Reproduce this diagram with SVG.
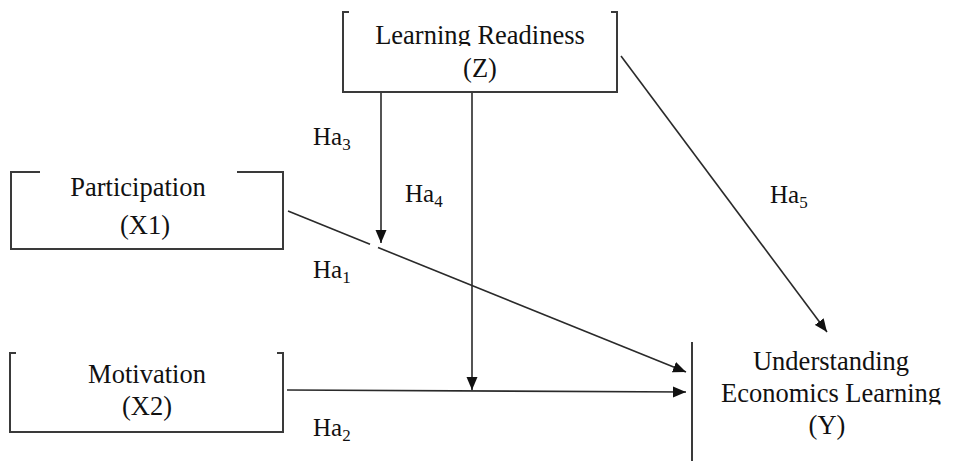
<svg xmlns="http://www.w3.org/2000/svg" width="955" height="461" viewBox="0 0 955 461">
<style>
  .box { fill: none; stroke: #3a3a3a; stroke-width: 2; }
  .edge { fill: none; stroke: #2a2a2a; stroke-width: 1.6; }
  .t { font-family: "Liberation Serif", "Times New Roman", serif; font-size: 25px; fill: #111; }
  .n { font-size: 26.5px; }
  .c { text-anchor: middle; }
  .sub { font-size: 17px; }
</style>
<defs>
  <marker id="arr" markerUnits="userSpaceOnUse" markerWidth="14" markerHeight="12" refX="13" refY="6" orient="auto">
    <path d="M0,0.5 L13,6 L0,11.5 z" fill="#111"/>
  </marker>
  <clipPath id="clipZ"><rect x="340" y="0" width="280" height="46"/></clipPath>
  <clipPath id="clipY"><rect x="700" y="340" width="255" height="64.5"/></clipPath>
</defs>
<rect width="955" height="461" fill="#fff"/>

<g id="connectors">
  <line class="edge" x1="381" y1="92" x2="381" y2="243" marker-end="url(#arr)"/>
  <line class="edge" x1="472" y1="92" x2="472" y2="390" marker-end="url(#arr)"/>
  <line class="edge" x1="288" y1="211" x2="370" y2="244.3"/>
  <line class="edge" x1="378" y1="247.5" x2="686" y2="372" marker-end="url(#arr)"/>
  <line class="edge" x1="287" y1="390" x2="686" y2="392" marker-end="url(#arr)"/>
  <line class="edge" x1="621" y1="56" x2="827" y2="332" marker-end="url(#arr)"/>
  <text class="t" x="313" y="145">Ha<tspan class="sub" dy="5">3</tspan></text>
  <text class="t" x="405" y="202">Ha<tspan class="sub" dy="5">4</tspan></text>
  <text class="t" x="313" y="278">Ha<tspan class="sub" dy="5">1</tspan></text>
  <text class="t" x="313" y="436">Ha<tspan class="sub" dy="5">2</tspan></text>
  <text class="t" x="770" y="203">Ha<tspan class="sub" dy="5">5</tspan></text>
</g>

<g id="node-z">
  <path class="box" d="M349,12 H343 V92 H617 V12 H611"/>
  <text class="t n c" x="480" y="44" clip-path="url(#clipZ)">Learning Readiness</text>
  <text class="t n c" x="480" y="77">(Z)</text>
</g>

<g id="node-x1">
  <path class="box" d="M40,172 H11 V249 H283 V172 H237"/>
  <text class="t n c" x="138" y="196">Participation</text>
  <text class="t n c" x="145" y="234">(X1)</text>
</g>

<g id="node-x2">
  <path class="box" d="M16,353 H10 V432 H283 V353 H277"/>
  <text class="t n c" x="147" y="383">Motivation</text>
  <text class="t n c" x="147" y="415">(X2)</text>
</g>

<g id="node-y">
  <line class="box" x1="692" y1="342" x2="692" y2="461"/>
  <text class="t n c" x="831" y="370">Understanding</text>
  <text class="t n c" x="831" y="402" clip-path="url(#clipY)">Economics Learning</text>
  <text class="t n c" x="827" y="434">(Y)</text>
</g>
</svg>
